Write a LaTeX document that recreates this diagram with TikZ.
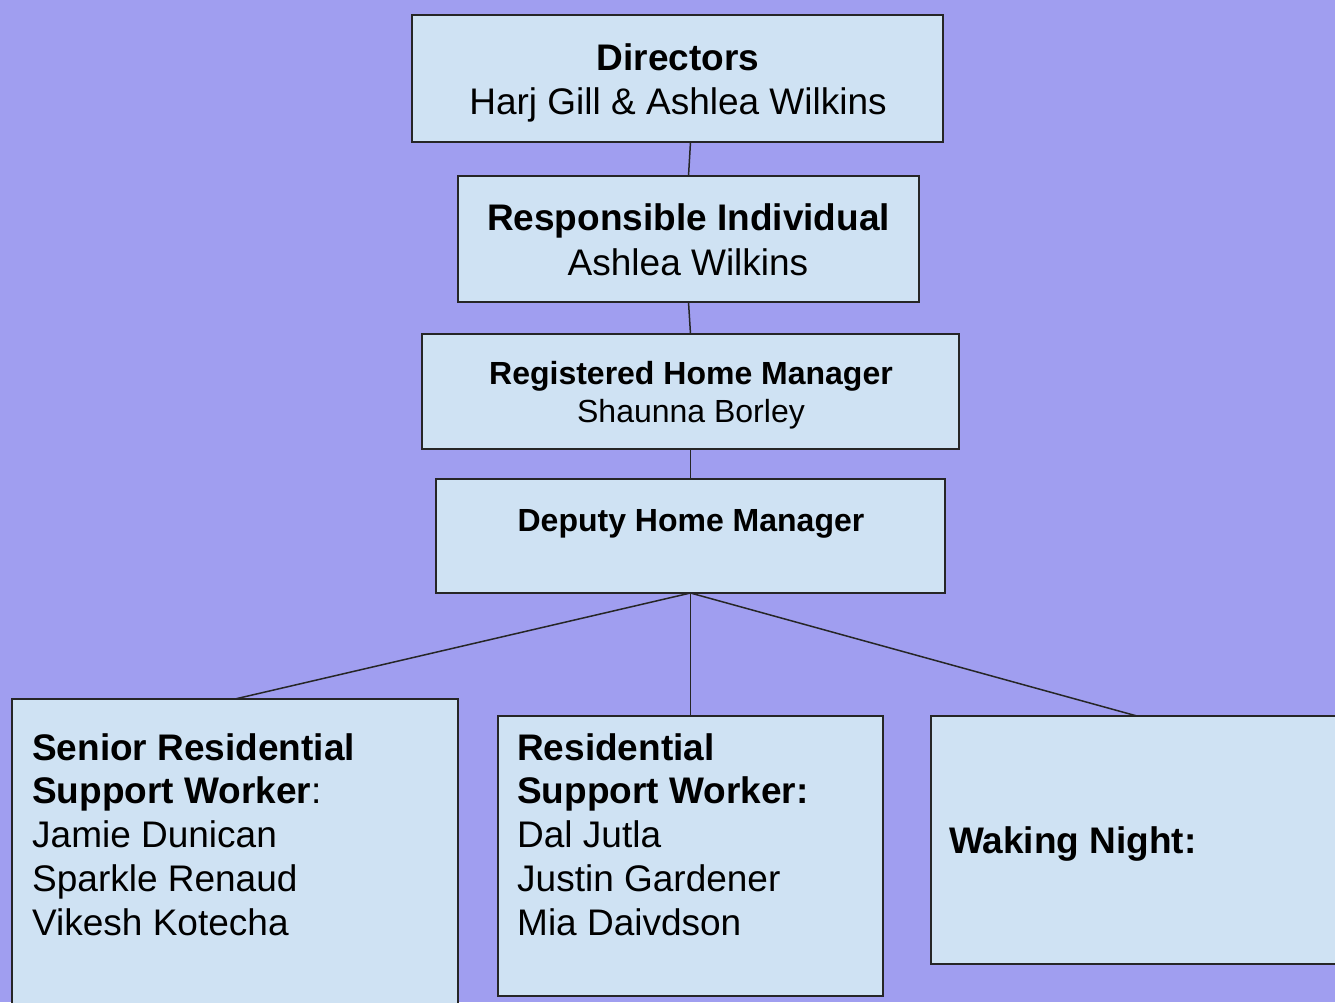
\documentclass[tikz,border=0pt]{standalone}
\usepackage{fontspec}
\setmainfont{Liberation Sans}
\definecolor{bg}{HTML}{A09EF0}
\definecolor{boxfill}{HTML}{CFE2F3}
\definecolor{edge}{HTML}{262626}
\begin{document}
\begin{tikzpicture}[x=1pt,y=-1pt,
  box/.style={draw=edge,fill=boxfill,line width=1.6pt,rectangle,inner sep=0pt,outer sep=0pt},
  link/.style={draw=edge,line width=1.5pt},
  big/.style={font=\fontsize{37}{44}\selectfont,inner sep=0pt,text=black},
  bigb/.style={font=\fontsize{37}{44}\selectfont\bfseries,inner sep=0pt,text=black},
  small/.style={font=\fontsize{32}{38}\selectfont,inner sep=0pt,text=black},
  smallb/.style={font=\fontsize{32}{38}\selectfont\bfseries,inner sep=0pt,text=black}]
\fill[bg] (0,0) rectangle (1335,1002);
\useasboundingbox (0,0) rectangle (1335,1002);
% boxes
\node[box,minimum width=531pt,minimum height=127pt] (dir) at (677.5,78.5) {};
\node[box,minimum width=461pt,minimum height=126pt] (ri) at (688.5,239) {};
\node[box,minimum width=537pt,minimum height=115pt] (rhm) at (690.5,391.5) {};
\node[box,minimum width=509pt,minimum height=114pt] (dhm) at (690.5,536) {};
\node[box,minimum width=446pt,minimum height=315pt] (srsw) at (235,856.5) {};
\node[box,minimum width=385pt,minimum height=280pt] (rsw) at (690.5,856) {};
\node[box,minimum width=412pt,minimum height=248pt] (wn) at (1137,840) {};
% connectors
\draw[link] ([xshift=13pt]dir.south) -- (ri.north);
\draw[link] (ri.south) -- (rhm.north);
\draw[link] (rhm.south) -- (dhm.north);
\draw[link] (dhm.south) -- (srsw.north);
\draw[link] (dhm.south) -- (rsw.north);
\draw[link] (dhm.south) -- (wn.north);
% texts
\node[bigb,anchor=base] (t1) at (678,70) {Directors};
\node[big,anchor=base] (t2) at (678,114) {Harj Gill \& Ashlea Wilkins};
\node[bigb,anchor=base] (t3) at (688.5,230) {Responsible Individual};
\node[big,anchor=base] (t4) at (688,275) {Ashlea Wilkins};
\node[smallb,anchor=base] (t5) at (691,384) {Registered Home Manager};
\node[small,anchor=base] (t6) at (691,422) {Shaunna Borley};
\node[smallb,anchor=base] (t7) at (691,531) {Deputy Home Manager};
\node[bigb,anchor=base west] (s1) at (32,760) {Senior Residential};
\node[bigb,anchor=base west] (s2) at (32,803) {Support Worker\normalfont:};
\node[big,anchor=base west] (s3) at (32,847) {Jamie Dunican};
\node[big,anchor=base west] (s4) at (32,891) {Sparkle Renaud};
\node[big,anchor=base west] (s5) at (32,935) {Vikesh Kotecha};
\node[bigb,anchor=base west] (r1) at (517,760) {Residential};
\node[bigb,anchor=base west] (r2) at (517,803) {Support Worker:};
\node[big,anchor=base west] (r3) at (517,847) {Dal Jutla};
\node[big,anchor=base west] (r4) at (517,891) {Justin Gardener};
\node[big,anchor=base west] (r5) at (517,935) {Mia Daivdson};
\node[bigb,anchor=base west] (w1) at (949,853) {Waking Night:};
\end{tikzpicture}
\end{document}
